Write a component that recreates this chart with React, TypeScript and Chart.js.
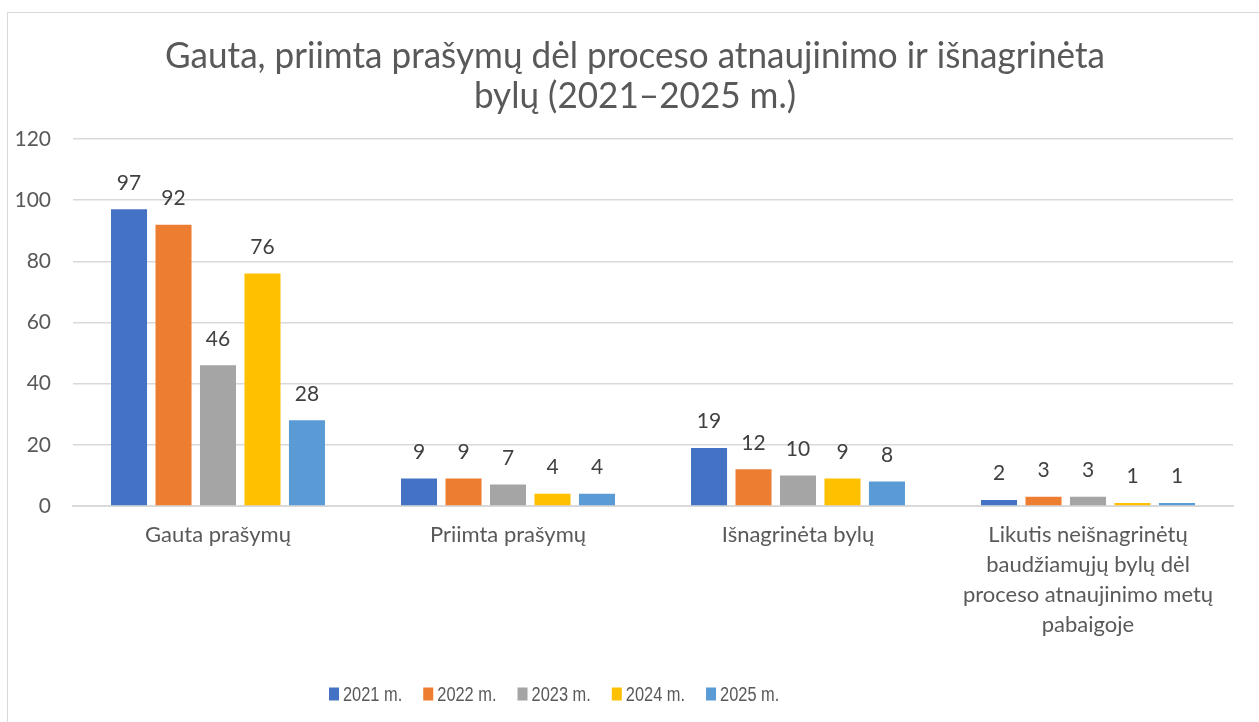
import React, { useEffect, useRef } from "react";
import { Chart, registerables } from "chart.js";

Chart.register(...registerables);

const categories: (string | string[])[] = [
  "Gauta prašymų",
  "Priimta prašymų",
  "Išnagrinėta bylų",
  ["Likutis neišnagrinėtų", "baudžiamųjų bylų dėl", "proceso atnaujinimo metų", "pabaigoje"],
];
const seriesNames = ["2021 m.", "2022 m.", "2023 m.", "2024 m.", "2025 m."];
const v2021 = [97, 9, 19, 2];
const v2022 = [92, 9, 12, 3];
const v2023 = [46, 7, 10, 3];
const v2024 = [76, 4, 9, 1];
const v2025 = [28, 4, 8, 1];
const seriesColors = ["#4472C4", "#ED7D31", "#A5A5A5", "#FFC000", "#5B9BD5"];
const titleLines = ["Gauta, priimta prašymų dėl proceso atnaujinimo ir išnagrinėta", "bylų (2021–2025 m.)"];

const TEXT = "#595959";
const BODY_FONT = "Lato, 'Open Sans', sans-serif";
const LEGEND_FONT = "'Liberation Sans', Arial, sans-serif";

const titlePlugin = {
  id: "customTitle",
  afterDraw(chart: any) {
    const ctx = chart.ctx;
    ctx.save();
    ctx.font = `36px ${BODY_FONT}`;
    ctx.fillStyle = TEXT;
    ctx.textAlign = "center";
    ctx.textBaseline = "alphabetic";
    const w = ctx.measureText(titleLines[0]).width;
    const sx = 940 / w;
    const cx = 635;
    const baselines = [68, 108];
    titleLines.forEach((line, i) => {
      ctx.save();
      ctx.translate(cx, baselines[i]);
      ctx.scale(sx, 1);
      ctx.fillText(line, 0, 0);
      ctx.restore();
    });
    ctx.restore();
  },
};

const dataLabelPlugin = {
  id: "dataLabels",
  afterDatasetsDraw(chart: any) {
    const ctx = chart.ctx;
    ctx.save();
    ctx.font = `21px ${BODY_FONT}`;
    ctx.fillStyle = "#404040";
    ctx.textAlign = "center";
    ctx.textBaseline = "alphabetic";
    chart.data.datasets.forEach((ds: any, i: number) => {
      const meta = chart.getDatasetMeta(i);
      meta.data.forEach((el: any, j: number) => {
        ctx.fillText(String(ds.data[j]), el.x, el.y - 19.5);
      });
    });
    ctx.restore();
  },
};

const legendPlugin = {
  id: "customLegend",
  afterDraw(chart: any) {
    const ctx = chart.ctx;
    ctx.save();
    ctx.font = `20px ${LEGEND_FONT}`;
    ctx.textBaseline = "middle";
    ctx.textAlign = "left";
    const sx = 0.82;
    let x = 329;
    const yc = 694;
    chart.data.datasets.forEach((ds: any) => {
      ctx.fillStyle = ds.backgroundColor;
      ctx.fillRect(x, yc - 6.5, 10, 13);
      ctx.fillStyle = TEXT;
      ctx.save();
      ctx.translate(x + 14, yc + 1);
      ctx.scale(sx, 1);
      ctx.fillText(ds.label, 0, 0);
      ctx.restore();
      const w = ctx.measureText(ds.label).width * sx;
      x += 14 + w + 21;
    });
    ctx.restore();
  },
};

export default function App() {
  const ref = useRef<HTMLCanvasElement>(null);
  useEffect(() => {
    if (!ref.current) return;
    const values = [v2021, v2022, v2023, v2024, v2025];
    const chart = new Chart(ref.current, {
      type: "bar",
      data: {
        labels: categories,
        datasets: seriesNames.map((name, i) => ({
          label: name,
          data: values[i],
          backgroundColor: seriesColors[i],
          categoryPercentage: 0.767,
          barPercentage: 0.81,
        })),
      },
      options: {
        animation: false,
        responsive: false,
        maintainAspectRatio: false,
        layout: { padding: { left: 0, right: 26, top: 139, bottom: 76 } },
        plugins: {
          legend: { display: false },
          tooltip: { enabled: false },
          title: { display: false },
        },
        scales: {
          x: {
            grid: { display: false, drawTicks: false },
            border: { display: true, color: "#d9d9d9", width: 2 },
            ticks: {
              color: TEXT,
              font: { family: BODY_FONT, size: 22, lineHeight: "30px" },
              padding: 14,
              maxRotation: 0,
              autoSkip: false,
            },
            afterFit: (s: any) => {
              s.height = 140;
            },
          },
          y: {
            min: 0,
            max: 120,
            grid: { color: "#d9d9d9", lineWidth: 1.5, drawTicks: false },
            border: { display: false },
            ticks: {
              stepSize: 20,
              color: TEXT,
              font: { family: BODY_FONT, size: 21 },
              padding: 22,
            },
            afterFit: (s: any) => {
              s.width = 73;
            },
          },
        },
      },
      plugins: [dataLabelPlugin, legendPlugin, titlePlugin],
    });
    return () => chart.destroy();
  }, []);

  return (
    <div
      style={{
        position: "fixed",
        left: 0,
        top: 0,
        width: 1259,
        height: 722,
        background: "#fff",
        overflow: "hidden",
      }}
    >
      <div
        style={{
          position: "absolute",
          left: 7,
          top: 12,
          width: 1400,
          height: 1000,
          border: "1.5px solid #d9d9d9",
        }}
      />
      <canvas ref={ref} width={1259} height={722} style={{ position: "absolute", left: 0, top: 0 }} />
    </div>
  );
}
